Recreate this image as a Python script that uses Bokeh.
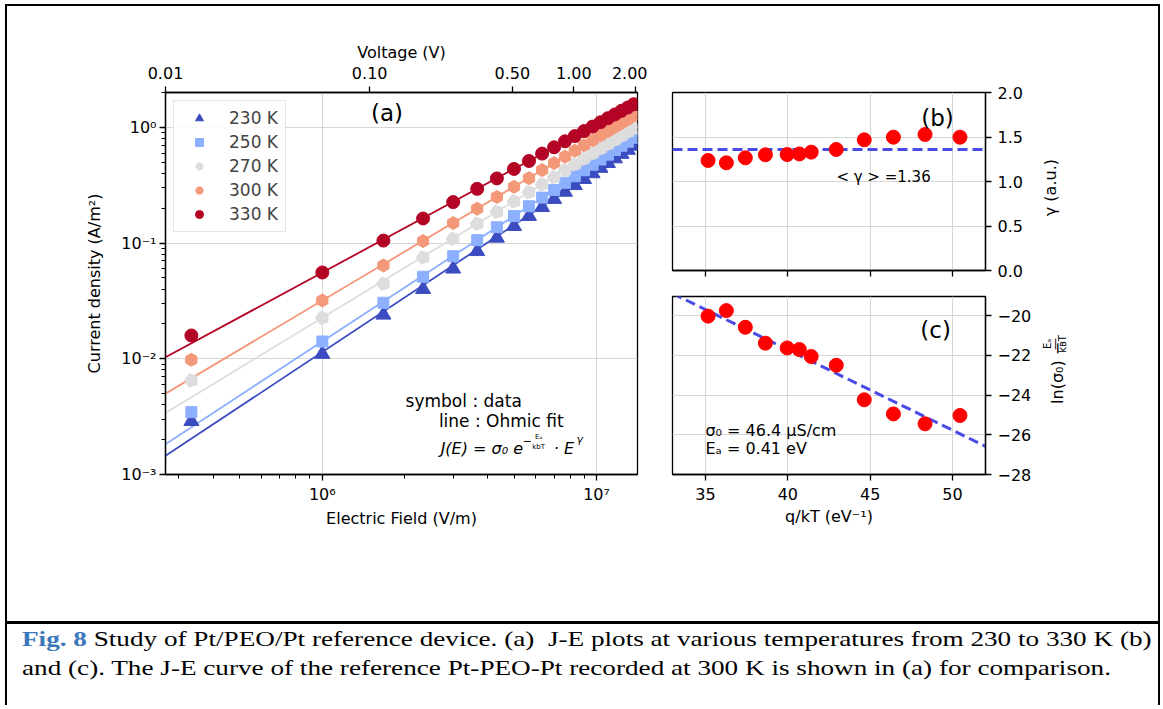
import numpy as np
from bokeh.plotting import figure
from bokeh.layouts import row, column
from bokeh.models import (Range1d, LogScale, LogAxis, FixedTicker, CustomJSTickFormatter,
                          PrintfTickFormatter, Legend, LegendItem, Label, Div)
from bokeh.embed import file_html
from bokeh.resources import INLINE

# ---------------- data: panel (a) J-E curves ----------------
temps = ["230 K", "250 K", "270 K", "300 K", "330 K"]
colors = ["#3b4cc0", "#8db0fe", "#dddddd", "#f4987a", "#b40426"]
e_field = [3.33e5, 1.0e6, 1.67e6, 2.33e6, 3.0e6, 3.67e6, 4.33e6, 5.0e6, 5.67e6, 6.33e6, 7.0e6,
           7.67e6, 8.33e6, 9.0e6, 9.67e6, 1.033e7, 1.1e7, 1.167e7, 1.233e7, 1.3e7, 1.367e7]
j_230 = [0.00289, 0.0110, 0.0240, 0.0400, 0.0600, 0.0850, 0.111, 0.140, 0.171, 0.204, 0.240,
         0.277, 0.316, 0.357, 0.400, 0.445, 0.490, 0.538, 0.588, 0.638, 0.692]
j_250 = [0.00346, 0.0141, 0.0305, 0.0512, 0.0770, 0.106, 0.137, 0.171, 0.208, 0.247, 0.288,
         0.332, 0.378, 0.426, 0.475, 0.527, 0.581, 0.637, 0.693, 0.752, 0.813]
j_270 = [0.0065, 0.0226, 0.0445, 0.0750, 0.109, 0.147, 0.186, 0.229, 0.275, 0.322, 0.372,
         0.424, 0.479, 0.535, 0.593, 0.653, 0.714, 0.777, 0.841, 0.908, 0.975]
j_300 = [0.0098, 0.0319, 0.0640, 0.104, 0.149, 0.198, 0.250, 0.306, 0.364, 0.427, 0.491,
         0.558, 0.628, 0.699, 0.772, 0.850, 0.927, 1.007, 1.088, 1.172, 1.259]
j_330 = [0.0159, 0.0557, 0.105, 0.163, 0.226, 0.294, 0.362, 0.437, 0.512, 0.593, 0.672,
         0.757, 0.840, 0.928, 1.015, 1.107, 1.199, 1.293, 1.390, 1.484, 1.585]
# Ohmic fit lines (value at both ends of the field axis)
fit_e = [2.68e5, 1.41e7]
fit_230 = [0.00145, 0.728]
fit_250 = [0.00183, 0.856]
fit_270 = [0.00340, 1.02]
fit_300 = [0.00500, 1.32]
fit_330 = [0.0103, 1.65]
volt_ticks = [0.01, 0.1, 0.5, 1.0, 2.0]

# ---------------- data: panels (b), (c) ----------------
q_kt = [35.16, 36.27, 37.42, 38.64, 39.96, 40.70, 41.42, 42.94, 44.64, 46.41, 48.33, 50.45]
gamma = [1.236, 1.21, 1.266, 1.30, 1.303, 1.31, 1.33, 1.36, 1.468, 1.498, 1.528, 1.498]
gamma_mean = 1.36
ln_sigma = [-20.03, -19.75, -20.59, -21.39, -21.63, -21.71, -22.06, -22.50, -24.24, -24.95,
            -25.45, -25.03]
arr_intercept = -5.52
arr_slope = -0.405

FONT = "DejaVu Sans"
GRID = "#d6d6d6"


def style_axis(ax, tick_out=6, minor_out=4, standoff=4, label_standoff=6):
    ax.axis_line_color = "black"
    ax.axis_line_width = 1.3
    ax.major_tick_line_color = "black"
    ax.major_tick_line_width = 1.3
    ax.minor_tick_line_color = "black"
    ax.minor_tick_line_width = 1.0
    ax.major_tick_in = 0
    ax.major_tick_out = tick_out
    ax.minor_tick_in = 0
    ax.minor_tick_out = minor_out
    ax.major_label_text_font = FONT
    ax.major_label_text_font_size = "16px"
    ax.major_label_text_color = "black"
    ax.axis_label_text_font = FONT
    ax.axis_label_text_font_size = "16px"
    ax.axis_label_text_font_style = "normal"
    ax.axis_label_text_color = "black"
    ax.major_label_standoff = standoff
    ax.axis_label_standoff = label_standoff


sup_code = """
const sup = {"-": "\u207b", "0": "\u2070", "1": "\u00b9", "2": "\u00b2", "3": "\u00b3",
             "4": "\u2074", "5": "\u2075", "6": "\u2076", "7": "\u2077", "8": "\u2078", "9": "\u2079"};
const e = Math.round(Math.log10(tick));
return "10" + String(e).split("").map((c) => sup[c]).join("");
"""


def lab(fig, x, y, text, size="17px", align="left", baseline="middle", angle=0.0,
        style="normal"):
    fig.add_layout(Label(x=x, y=y, text=text, text_font=FONT, text_font_size=size,
                         text_align=align, text_baseline=baseline, angle=angle,
                         text_font_style=style, text_color="black"))


# ---------------- panel (a) ----------------
fa = figure(width=640, height=615, x_axis_type="log", y_axis_type="log",
            x_range=Range1d(fit_e[0], fit_e[1]), y_range=Range1d(1e-3, 2.0),
            output_backend="svg", toolbar_location=None,
            min_border_left=158, min_border_right=10, min_border_top=86, min_border_bottom=147)
fa.outline_line_color = "black"
fa.outline_line_width = 1.3
fa.background_fill_color = "white"
fa.border_fill_color = "white"

x_minor = [m * 10.0 ** k for k in (5, 6, 7) for m in range(2, 10)]
y_minor = [m * 10.0 ** k for k in (-3, -2, -1, 0) for m in range(2, 10)]
xt = FixedTicker(ticks=[1e6, 1e7], minor_ticks=x_minor)
yt = FixedTicker(ticks=[1e-3, 1e-2, 1e-1, 1e0], minor_ticks=y_minor)
fa.xaxis[0].ticker = xt
fa.yaxis[0].ticker = yt
fa.xgrid[0].ticker = xt
fa.ygrid[0].ticker = yt
fa.xaxis[0].formatter = CustomJSTickFormatter(code=sup_code)
fa.yaxis[0].formatter = CustomJSTickFormatter(code=sup_code)
fa.xaxis[0].axis_label = "Electric Field (V/m)"
fa.yaxis[0].axis_label = "Current density (A/m\u00b2)"
style_axis(fa.xaxis[0], standoff=4, label_standoff=2)
style_axis(fa.yaxis[0], standoff=3, label_standoff=14)
for g in (fa.xgrid[0], fa.ygrid[0]):
    g.grid_line_color = GRID
    g.grid_line_width = 1

fa.extra_x_ranges = {"v": Range1d(0.01, 2.05)}
fa.extra_x_scales = {"v": LogScale()}
top = LogAxis(x_range_name="v", axis_label="Voltage (V)",
              ticker=FixedTicker(ticks=volt_ticks, minor_ticks=[]),
              formatter=PrintfTickFormatter(format="%.2f"))
style_axis(top, standoff=8, label_standoff=2)
top.minor_tick_out = 0
fa.add_layout(top, "above")

series = [(j_230, fit_230, "triangle", 15), (j_250, fit_250, "square", 11),
          (j_270, fit_270, "pentagon", 13), (j_300, fit_300, "hex", 13),
          (j_330, fit_330, "circle", 13)]
items = []
for (jv, fv, mk, sz), col, name in zip(series, colors, temps):
    fa.line(fit_e, fv, line_color=col, line_width=1.8)
for (jv, fv, mk, sz), col, name in zip(series, colors, temps):
    r = None
    if mk == "pentagon" and hasattr(fa, "ngon"):
        try:
            r = fa.ngon(x=e_field, y=jv, radius=7, radius_units="screen", n=5, angle=np.pi / 2,
                        fill_color=col, line_color=col)
        except Exception:
            r = None
    if r is None:
        if mk in ("hex", "pentagon"):
            r = fa.scatter(e_field, jv, marker="hex", size=sz, angle=np.pi / 2,
                           fill_color=col, line_color=col)
        else:
            r = fa.scatter(e_field, jv, marker=mk, size=sz, fill_color=col, line_color=col)
    items.append(LegendItem(label=name, renderers=[r]))

leg = Legend(items=items, location="top_left", margin=8, padding=7, spacing=4,
             glyph_width=36, glyph_height=20, label_height=20, label_standoff=12,
             label_text_font=FONT, label_text_font_size="17px",
             border_line_color="#cccccc", border_line_width=1,
             background_fill_color="white", background_fill_alpha=0.85)
fa.add_layout(leg)

lab(fa, 1.72e6, 1.32, "(a)", size="23px", align="center")
lab(fa, 2.012e6, 4.30e-3, "symbol : data")
lab(fa, 2.661e6, 2.89e-3, "line : Ohmic fit")
lab(fa, 2.70e6, 1.668e-3, "J(E) = \u03c3\u2080 e", size="16px", style="italic")
lab(fa, 5.38e6, 1.95e-3, "\u2212", size="11px")
lab(fa, 6.15e6, 2.12e-3, "E\u2090", size="7px", align="center")
lab(fa, 6.15e6, 1.74e-3, "kbT", size="7px", align="center")
lab(fa, 6.98e6, 1.668e-3, "\u00b7 E", size="16px", style="italic")
lab(fa, 8.45e6, 1.99e-3, "\u03b3", size="11px", style="italic")

# ---------------- panel (b) ----------------
fb = figure(width=388, height=277, x_range=Range1d(33, 52), y_range=Range1d(0, 2),
            y_axis_location="right", output_backend="svg", toolbar_location=None,
            min_border_left=25, min_border_right=50, min_border_top=86, min_border_bottom=13)
fb.outline_line_color = "black"
fb.outline_line_width = 1.3
xt_b = FixedTicker(ticks=[35, 40, 45, 50], minor_ticks=[])
yt_b = FixedTicker(ticks=[0, 0.5, 1.0, 1.5, 2.0], minor_ticks=[])
fb.xaxis[0].ticker = xt_b
fb.yaxis[0].ticker = yt_b
fb.xgrid[0].ticker = xt_b
fb.ygrid[0].ticker = yt_b
fb.xaxis[0].formatter = CustomJSTickFormatter(code="return '';")
fb.yaxis[0].formatter = PrintfTickFormatter(format="%.1f")
style_axis(fb.xaxis[0], minor_out=0, standoff=0)
style_axis(fb.yaxis[0], minor_out=0, standoff=6)
for g in (fb.xgrid[0], fb.ygrid[0]):
    g.grid_line_color = GRID
    g.grid_line_width = 1
fb.line([fb.x_range.start, fb.x_range.end], [gamma_mean, gamma_mean], line_color="#4a4ae6",
        line_width=3, line_dash="10 5")
fb.scatter(q_kt, gamma, marker="circle", size=14, fill_color="#ff0000", line_color="#ff0000")
lab(fb, 49.09, 1.719, "(b)", size="23px", align="center")
lab(fb, 45.81, 1.056, "< \u03b3 > =1.36", size="15px", align="center")


# strips to the right of (b) and (c) holding their rotated y-axis titles (pixel coordinates)
def label_strip(h):
    s = figure(width=123, height=h, x_range=Range1d(0, 123), y_range=Range1d(h, 0),
               x_axis_type=None, y_axis_type=None, output_backend="svg", toolbar_location=None,
               min_border=0)
    s.outline_line_color = None
    s.xgrid.visible = False
    s.ygrid.visible = False
    return s


lb = label_strip(277)
lab(lb, 15, 148, "\u03b3 (a.u.)", size="16px", align="center", angle=np.pi / 2)

# ---------------- panel (c) ----------------
fc = figure(width=388, height=338, x_range=Range1d(33, 52), y_range=Range1d(-28, -19.04),
            y_axis_location="right", output_backend="svg", toolbar_location=None,
            min_border_left=25, min_border_right=50, min_border_top=13, min_border_bottom=147)
fc.outline_line_color = "black"
fc.outline_line_width = 1.3
yt_c = FixedTicker(ticks=[-28, -26, -24, -22, -20], minor_ticks=[])
fc.xaxis[0].ticker = xt_b
fc.yaxis[0].ticker = yt_c
fc.xgrid[0].ticker = xt_b
fc.ygrid[0].ticker = yt_c
fc.yaxis[0].formatter = CustomJSTickFormatter(
    code="return tick < 0 ? '\u2212' + Math.abs(tick) : String(tick);")
fc.xaxis[0].axis_label = "q/kT (eV\u207b\u00b9)"
style_axis(fc.xaxis[0], minor_out=0, standoff=7, label_standoff=4)
style_axis(fc.yaxis[0], minor_out=0, standoff=6)
for g in (fc.xgrid[0], fc.ygrid[0]):
    g.grid_line_color = GRID
    g.grid_line_width = 1
xs = np.array([fc.x_range.start, fc.x_range.end])
fc.line(xs, arr_intercept + arr_slope * xs, line_color="#4a4ae6", line_width=3, line_dash="10 5")
fc.scatter(q_kt, ln_sigma, marker="circle", size=14, fill_color="#ff0000", line_color="#ff0000")
lab(fc, 48.97, -20.75, "(c)", size="23px", align="center")
lab(fc, 35.0, -25.78, "\u03c3\u2080 = 46.4 \u03bcS/cm", size="16px")
lab(fc, 35.0, -26.69, "E\u2090 = 0.41 eV", size="16px")

lcs = label_strip(338)
lab(lcs, 22, 145, "ln(\u03c3\u2080) \u2212", size="16px", align="center", angle=np.pi / 2)
lab(lcs, 12, 90, "E\u2090", size="10px", align="center", angle=np.pi / 2)
lab(lcs, 19, 90, "\u2014", size="12px", align="center", angle=np.pi / 2)
lab(lcs, 27, 90, "k\u0299T", size="10px", align="center", angle=np.pi / 2)

# ---------------- caption ----------------
cap_html = (
    '<div style="width:1151px;height:84px;border-top:3px solid #000;box-sizing:border-box;'
    'padding:0 0 0 15px;overflow:hidden;">'
    '<div style="font-family:\'Liberation Serif\',\'Times New Roman\',serif;font-size:22px;'
    'line-height:29px;white-space:nowrap;color:#000;transform:scaleX(1.235);'
    'transform-origin:0 0;">'
    '<span style="color:#3b78b9;font-weight:bold;">Fig. 8</span> Study of Pt/PEO/Pt reference '
    'device. (a)&nbsp; J-E plots at various temperatures from 230 to 330 K (b)<br>'
    'and (c). The J-E curve of the reference Pt-PEO-Pt recorded at 300 K is shown in (a) for '
    'comparison.</div></div>')
cap = Div(text=cap_html, width=1151, height=84, margin=0)

root = column(row(fa, column(row(fb, lb), row(fc, lcs))), cap,
              styles={"margin-left": "5px", "margin-top": "4px",
                      "border-left": "2px solid #000", "border-top": "2px solid #000",
                      "border-right": "2px solid #000"})

open("out.html", "w").write(file_html(root, INLINE))
